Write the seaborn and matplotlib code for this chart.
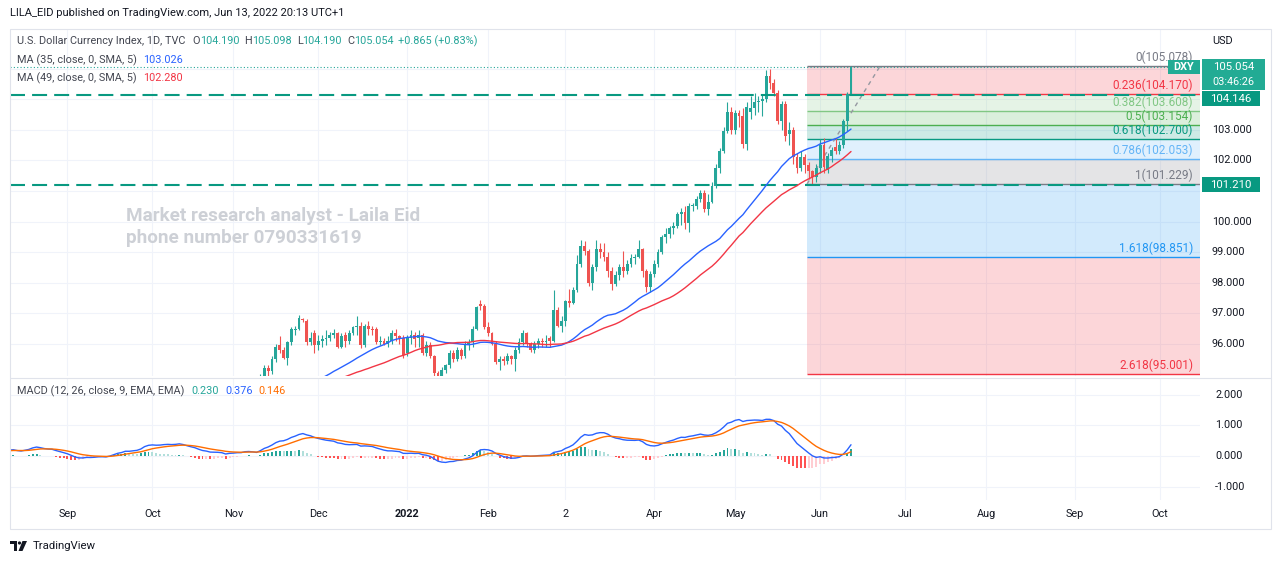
import numpy as np
import pandas as pd
import matplotlib
matplotlib.use("Agg")
import matplotlib.pyplot as plt
import matplotlib.transforms as mtrans
from matplotlib.patches import Rectangle, Polygon, Circle
import seaborn as sns

# ---------------------------------------------------------------- data
# daily closes Jun 1 2021 .. Nov 5 2021 (below the visible price range, feed the indicators)
warm_close = [
    89.9, 90.0, 90.5, 90.1, 90.0, 90.1, 90.1, 90.1, 90.6, 90.5, 90.5, 91.4, 91.9, 92.2, 91.9, 91.7, 91.8, 91.8, 91.8, 91.9, 92.1, 92.4,
    92.6, 92.2, 92.2, 92.6, 92.6, 92.4, 92.1, 92.2, 92.7, 92.4, 92.6, 92.7, 92.9, 92.9, 92.8, 92.8, 92.9, 92.7, 92.5, 92.3, 91.9, 92.2,
    92.0, 92.0, 92.3, 92.2, 92.8, 92.9, 93.1, 92.9, 92.9, 92.5, 92.6, 93.1, 93.2, 93.6, 93.5, 93.0, 92.9, 93.0, 93.1, 92.7, 92.7, 92.6,
    92.5, 92.2, 92.1, 92.2, 92.5, 92.7, 92.5, 92.6, 92.7, 92.6, 92.5, 92.9, 93.2, 93.3, 93.2, 93.5, 93.1, 93.3, 93.4, 93.8, 94.4, 94.2,
    94.0, 93.8, 94.0, 94.2, 94.2, 94.1, 94.3, 94.5, 94.1, 93.9, 93.9, 93.9, 93.6, 93.6, 93.8, 93.6, 93.9, 93.9, 93.8, 93.4, 94.1,
    94.0, 94.1, 94.0, 94.4, 94.2,
]

# daily candles Nov 8 2021 .. Jun 13 2022
opens = [
    94.2, 94.0, 93.9, 94.85, 95.2, 95.1, 95.5, 95.95, 95.8, 95.55, 96.05, 96.45, 96.5, 96.8, 96.75, 96.05, 96.35,
    95.95, 96.1, 96.15, 96.2, 96.3, 96.35, 95.9, 96.3, 96.1, 96.35, 96.55, 96.6, 95.95, 96.6, 96.5, 96.5, 96.05, 96.1, 96.0, 96.1, 96.35, 96.25, 96.2,
    95.7, 96.2, 96.3, 96.2, 96.3, 95.7, 95.95, 95.6, 95.05, 94.8, 95.15, 95.3, 95.7, 95.5, 95.8, 95.6, 95.95, 96.05, 96.5, 97.3, 97.25,
    96.55, 96.35, 96.0, 95.4, 95.5, 95.45, 95.6, 95.5, 95.8, 96.05, 96.35, 96.0, 95.8, 96.0, 96.1, 96.05, 96.2, 96.1, 97.1, 96.6,
    96.75, 97.4, 97.35, 97.75, 98.6, 99.2, 99.05, 98.0, 98.5, 99.1, 99.0, 98.85, 98.4, 97.95, 98.25, 98.5, 98.4, 98.6, 98.8, 98.85, 99.1, 98.4, 97.85,
    98.3, 98.6, 99.0, 99.5, 99.6, 99.8, 99.85, 100.25, 100.3, 99.95, 100.5, 100.5, 100.75, 100.95, 100.4, 100.65, 101.15, 101.75, 102.3, 102.95, 103.6,
    103.0, 103.55, 103.45, 102.55, 103.6, 103.7, 103.9, 103.95, 104.0, 104.75, 104.55, 104.2, 103.3, 103.85, 102.85, 103.0, 102.1, 101.75, 102.1, 101.85, 101.65, 101.45,
    101.75, 102.5, 101.7, 102.15, 102.45, 102.3, 102.5, 103.3, 104.19,
]
highs = [
    94.3, 94.1, 95.0, 95.3, 95.3, 95.6, 96.0, 96.25, 95.9, 96.1, 96.55, 96.6, 96.95, 96.85, 96.8, 96.4, 96.45,
    96.3, 96.3, 96.45, 96.4, 96.5, 96.4, 96.35, 96.4, 96.45, 96.6, 96.9, 96.7, 96.65, 96.75, 96.6, 96.55, 96.25, 96.2, 96.25, 96.45, 96.5, 96.3, 96.3,
    96.3, 96.45, 96.4, 96.45, 96.35, 96.1, 96.05, 95.65, 95.1, 95.25, 95.35, 95.8, 95.8, 95.9, 95.85, 96.1, 96.15, 96.6, 97.25, 97.45, 97.3,
    96.7, 96.4, 96.1, 95.6, 95.6, 95.7, 95.65, 95.9, 96.2, 96.45, 96.4, 96.05, 96.1, 96.2, 96.2, 96.3, 96.25, 97.75, 97.2, 96.9,
    97.45, 97.8, 97.85, 98.9, 99.4, 99.35, 99.1, 98.6, 99.4, 99.3, 99.3, 99.0, 98.5, 98.4, 98.6, 99.05, 98.75, 98.95, 98.95, 99.4, 99.15, 98.45, 98.4,
    98.75, 99.1, 99.55, 99.8, 99.85, 100.0, 100.3, 100.45, 100.5, 100.6, 100.6, 100.85, 101.05, 101.05, 100.9, 101.3, 101.9, 102.4, 103.1, 103.9, 103.75,
    103.65, 103.65, 103.7, 103.9, 104.1, 104.2, 104.1, 104.15, 104.95, 105.0, 104.65, 104.3, 103.95, 103.95, 103.25, 103.1, 102.25, 102.3, 102.2, 101.95, 101.7, 101.9,
    102.7, 102.75, 102.25, 102.45, 102.75, 102.65, 103.35, 104.25, 105.098,
]
lows = [
    93.9, 93.8, 93.9, 94.8, 94.95, 95.0, 95.4, 95.7, 95.5, 95.3, 95.95, 96.3, 96.45, 96.7, 95.95, 95.95, 95.7,
    95.8, 95.9, 95.95, 96.1, 96.2, 95.85, 95.85, 95.9, 96.0, 96.3, 96.3, 95.85, 95.9, 96.3, 96.3, 96.0, 95.95, 95.95, 95.9, 96.0, 96.1, 96.0, 95.55,
    95.6, 96.0, 95.9, 95.9, 95.65, 95.6, 95.55, 94.95, 94.6, 94.65, 95.05, 95.2, 95.4, 95.45, 95.5, 95.55, 95.8, 95.9, 96.45, 97.1, 96.5,
    96.25, 95.95, 95.35, 95.15, 95.3, 95.35, 95.35, 95.1, 95.7, 95.95, 95.9, 95.75, 95.7, 95.85, 95.9, 95.9, 95.9, 96.05, 96.55, 96.4,
    96.6, 97.2, 97.3, 97.7, 98.5, 98.9, 97.9, 97.75, 98.4, 98.8, 98.7, 98.2, 97.75, 97.9, 98.1, 98.2, 98.3, 98.5, 98.6, 98.8, 98.2, 97.7, 97.7,
    98.2, 98.5, 98.95, 99.3, 99.45, 99.6, 99.8, 99.9, 99.75, 99.65, 100.35, 100.4, 100.65, 100.3, 100.2, 100.6, 101.1, 101.6, 102.25, 102.9, 102.85,
    102.85, 103.1, 102.4, 102.35, 103.35, 103.5, 103.6, 103.45, 103.9, 104.35, 104.1, 103.2, 103.0, 102.65, 102.5, 101.9, 101.6, 101.65, 101.6, 101.4, 101.23, 101.3,
    101.6, 101.6, 101.6, 101.95, 102.2, 102.2, 102.4, 102.95, 104.19,
]
closes = [
    94.0, 93.9, 94.85, 95.2, 95.1, 95.5, 95.9, 95.8, 95.55, 96.05, 96.5, 96.5, 96.85, 96.78, 96.05, 96.2, 95.95,
    96.1, 96.15, 96.2, 96.3, 96.35, 95.9, 96.25, 96.1, 96.35, 96.55, 96.6, 95.95, 96.6, 96.5, 96.45, 96.05, 96.1, 96.0, 96.1, 96.35, 96.25, 96.2, 95.65,
    96.2, 96.3, 96.15, 96.3, 95.7, 95.95, 95.6, 95.05, 94.8, 95.15, 95.3, 95.7, 95.5, 95.8, 95.6, 95.95, 96.05, 96.5, 97.2, 97.25, 96.55,
    96.35, 96.0, 95.4, 95.5, 95.45, 95.6, 95.5, 95.8, 96.05, 96.35, 96.0, 95.8, 96.0, 96.1, 96.05, 96.1, 96.1, 97.1, 96.6, 96.75,
    97.4, 97.35, 97.75, 98.6, 99.2, 99.05, 98.0, 98.5, 99.1, 99.0, 98.85, 98.4, 97.95, 98.25, 98.5, 98.4, 98.6, 98.8, 98.85, 99.1, 98.4, 97.85, 98.3,
    98.6, 99.0, 99.5, 99.6, 99.8, 99.85, 100.25, 100.3, 99.95, 100.5, 100.5, 100.75, 100.95, 100.4, 100.65, 101.15, 101.75, 102.3, 102.95, 103.6, 103.0,
    103.55, 103.45, 102.55, 103.75, 103.7, 103.9, 103.95, 104.0, 104.75, 104.55, 104.2, 103.3, 103.85, 102.8, 103.0, 102.1, 101.75, 102.1, 101.85, 101.65, 101.45, 101.75,
    102.5, 101.8, 102.15, 102.35, 102.3, 102.5, 103.3, 104.19, 105.054,
]

# Fibonacci retracement drawn on the chart
fib_levels = ["0", "0.236", "0.382", "0.5", "0.618", "0.786", "1", "1.618", "2.618"]
fib_prices = [105.078, 104.170, 103.608, 103.154, 102.700, 102.053, 101.229, 98.851, 95.001]
fib_colors = ["#787b86", "#f23645", "#81c784", "#4caf50", "#089981", "#64b5f6", "#787b86", "#2196f3", "#f23645"]
hlines_prices = [104.146, 101.210]
last_price = 105.054

price_ticks = [96, 97, 98, 99, 100, 101, 102, 103, 104, 105]
macd_ticks = [2, 1, 0, -1]
month_keys = ["2021-09", "2021-10", "2021-11", "2021-12", "2022-01", "2022-02", "2022-03",
              "2022-04", "2022-05", "2022-06", "2022-07", "2022-08", "2022-09", "2022-10"]
month_labels = ["Sep", "Oct", "Nov", "Dec", "2022", "Feb", "2", "Apr", "May", "Jun", "Jul", "Aug", "Sep", "Oct"]

# ---------------------------------------------------------------- styling
sns.set_theme(style="white")
plt.rcParams["font.family"] = ["Roboto", "DejaVu Sans"]

UP, DN = "#26a69a", "#ef5350"
TXT = "#131722"
LEG = "#434651"
GRID = "#f0f3fa"
BORDER = "#e0e3eb"

W, H = 1280, 563
fig = plt.figure(figsize=(W / 100, H / 100), dpi=100)
fig.patch.set_facecolor("white")


def add_ax(x0, y0, x1, y1, **kw):
    return fig.add_axes([x0 / W, 1 - y1 / H, (x1 - x0) / W, (y1 - y0) / H], **kw)


ax = add_ax(10, 29, 1200, 376)
axm = add_ax(10, 379, 1200, 500)
ov = fig.add_axes([0, 0, 1, 1], zorder=10)
ov.set_xlim(0, W)
ov.set_ylim(H, 0)
ov.axis("off")
ov.patch.set_alpha(0)

# ---------------------------------------------------------------- series
dates = pd.bdate_range("2021-06-01", "2022-06-13")
close_all = pd.Series(np.array(warm_close + closes, dtype=float))
n = len(close_all)
assert n == len(dates)
idx = np.arange(n)
L = n - 1
first = len(warm_close)

ma35 = close_all.rolling(35).mean()
ma49 = close_all.rolling(49).mean()
ema12 = close_all.ewm(span=12, adjust=False).mean()
ema26 = close_all.ewm(span=26, adjust=False).mean()
macd = ema12 - ema26
signal = macd.ewm(span=9, adjust=False).mean()
hist = macd - signal

PXBAR = 3.86
xl = (L - (851 - 10) / PXBAR, L + (1200 - 851) / PXBAR)

all_dates = pd.bdate_range("2021-06-01", periods=n + 120)
month_pos = []
for k in month_keys:
    y, m = map(int, k.split("-"))
    month_pos.append(int(np.argmax((all_dates.year == y) & (all_dates.month == m))))

for a in (ax, axm):
    a.set_xlim(*xl)
    a.set_xticks([])
    a.set_yticks([])
    for s in a.spines.values():
        s.set_visible(False)
    a.set_facecolor("white")
    for mp in month_pos:
        a.axvline(mp, color=GRID, lw=0.8, zorder=0)

ax.set_ylim(94.95, 106.3)
axm.set_ylim(-1.44, 2.52)
for p in price_ticks:
    ax.axhline(p, color=GRID, lw=0.8, zorder=0)
for p in macd_ticks:
    axm.axhline(p, color=GRID, lw=0.8, zorder=0)

# ---------------------------------------------------------------- fibonacci
fx0 = L - 11.4
fx1 = xl[1]
for i in range(len(fib_prices) - 1):
    ax.add_patch(Rectangle((fx0, fib_prices[i + 1]), fx1 - fx0, fib_prices[i] - fib_prices[i + 1],
                           facecolor=fib_colors[i + 1], alpha=0.2, lw=0, zorder=1))
for p, c in zip(fib_prices, fib_colors):
    ax.hlines(p, fx0, fx1, color=c, lw=1.0, zorder=2)
lab_tr = mtrans.offset_copy(ax.transData, fig=fig, y=1.5, units="points")
for lv, p, c in zip(fib_levels, fib_prices, fib_colors):
    ax.text(L + (1193 - 851) / PXBAR, p, f"{lv}({p:.3f})", color=c, fontsize=8.5,
            ha="right", va="bottom", transform=lab_tr, zorder=6)
ax.plot([fx0, L + 7.5], [fib_prices[6], fib_prices[0]], color="#9598a1", lw=1.0,
        dashes=(3, 3), zorder=2)

# ---------------------------------------------------------------- candles
o = np.array(opens); h = np.array(highs); lo = np.array(lows); c = np.array(closes)
ci = idx[first:]
col = np.where(c >= o, UP, DN)
ax.vlines(ci, lo, h, colors=col, lw=0.8, zorder=3)
ax.bar(ci, np.maximum(np.abs(c - o), 0.03), bottom=np.minimum(o, c), width=0.74,
       color=col, linewidth=0, zorder=3.1)

sns.lineplot(x=idx, y=ma35.values, ax=ax, color="#2962ff", lw=1.0, legend=False, zorder=5)
sns.lineplot(x=idx, y=ma49.values, ax=ax, color="#f23645", lw=1.0, legend=False, zorder=5)

for p in hlines_prices:
    ax.axhline(p, color="#089981", lw=1.5, dashes=(7.2, 3.4), zorder=4)
ax.axhline(last_price, color="#26a69a", lw=0.8, ls=(0, (1, 2)), zorder=4)

# ---------------------------------------------------------------- MACD
hv = hist.values
prev = np.r_[hv[0], hv[:-1]]
hcol = np.where(hv >= 0, np.where(hv > prev, "#26a69a", "#b2dfdb"),
                np.where(hv < prev, "#ff5252", "#ffcdd2"))
axm.bar(idx, hv, width=0.5, color=hcol, linewidth=0, zorder=2)
sns.lineplot(x=idx, y=macd.values, ax=axm, color="#2962ff", lw=1.0, legend=False, zorder=3)
sns.lineplot(x=idx, y=signal.values, ax=axm, color="#ff6d00", lw=1.0, legend=False, zorder=3)
axm.set_xlabel(""); axm.set_ylabel(""); ax.set_xlabel(""); ax.set_ylabel("")


# ---------------------------------------------------------------- overlay helpers
def ypx(a, p):
    return H - a.transData.transform((0, p))[1]


def xpx(a, i):
    return a.transData.transform((i, 0))[0]


renderer = fig.canvas.get_renderer()


def seq_text(x, y, parts, size, weight="normal"):
    for s, colr, gap in parts:
        t = ov.text(x, y, s, color=colr, fontsize=size, ha="left", va="center", fontweight=weight)
        x += t.get_window_extent(renderer).width + gap
    return x


# frame
ov.add_patch(Rectangle((9.5, 28.5), 1261, 500, fill=False, edgecolor=BORDER, lw=0.8))
ov.plot([9.5, 1270.5], [377.5, 377.5], color=BORDER, lw=0.8)

# header / footer
ov.text(10, 13, "LILA_EID published on TradingView.com, Jun 13, 2022 20:13 UTC+1",
        color=TXT, fontsize=8, ha="left", va="center")
ov.add_patch(Rectangle((10, 541), 7, 3, color=TXT, lw=0))
ov.add_patch(Rectangle((13.5, 541), 3.5, 10, color=TXT, lw=0))
ov.add_patch(Circle((19.5, 543), 1.6, color=TXT, lw=0))
ov.add_patch(Polygon([(22.5, 541), (27, 541), (22.5, 551), (18.5, 551)], closed=True, color=TXT, lw=0))
ov.text(33, 546, "TradingView", color=TXT, fontsize=8.2, ha="left", va="center")

# legends
teal = "#26a69a"
seq_text(17, 41, [("U.S. Dollar Currency Index, 1D, TVC", LEG, 7), ("O", LEG, 0), ("104.190", teal, 5),
                  ("H", LEG, 0), ("105.098", teal, 5), ("L", LEG, 0), ("104.190", teal, 5),
                  ("C", LEG, 0), ("105.054", teal, 5), ("+0.865 (+0.83%)", teal, 0)], 7.8)
seq_text(17, 60, [("MA (35, close, 0, SMA, 5)", LEG, 6), ("103.026", "#2962ff", 0)], 7.8)
seq_text(17, 78, [("MA (49, close, 0, SMA, 5)", LEG, 6), ("102.280", "#f23645", 0)], 7.8)
seq_text(17, 391, [("MACD (12, 26, close, 9, EMA, EMA)", LEG, 7), ("0.230", teal, 6),
                   ("0.376", "#2962ff", 6), ("0.146", "#ff6d00", 0)], 7.8)

# watermark
ov.text(126, 216, "Market research analyst - Laila Eid", color="#cdd0d6", fontsize=13.6,
        fontweight="bold", ha="left", va="center")
ov.text(126, 238, "phone number 0790331619", color="#cdd0d6", fontsize=13.6,
        fontweight="bold", ha="left", va="center")

# price boxes (computed first so covered scale labels can be skipped)
py = ypx(ax, last_price)
boxes = [(py - 8, py + 23, "#22ab94", None)]
bottom = py + 23
for p in hlines_prices:
    yy = ypx(ax, p)
    top = max(yy - 7.5, bottom + 1)
    boxes.append((top, top + 15, "#089981", p))
    bottom = top + 15

# price scale
ov.text(1212, 41, "USD", color=TXT, fontsize=7.8, ha="left", va="center")
for p in price_ticks:
    yy = ypx(ax, p)
    if any(b0 - 6 <= yy <= b1 + 6 for b0, b1, _, _ in boxes):
        continue
    ov.text(1212, yy, f"{p:.3f}", color=TXT, fontsize=7.8, ha="left", va="center")
for p in macd_ticks:
    ov.text(1215, ypx(axm, p), f"{p:.3f}", color=TXT, fontsize=7.8, ha="left", va="center")

ov.add_patch(Rectangle((1202, boxes[0][0]), 63, boxes[0][1] - boxes[0][0], color=boxes[0][2], lw=0))
ov.text(1233.5, py, f"{last_price:.3f}", color="white", fontsize=8.2, ha="center", va="center")
ov.text(1233.5, py + 15, "03:46:26", color="white", fontsize=7.8, ha="center", va="center")
ov.add_patch(Rectangle((1168, py - 7), 32, 14, color="#22ab94", lw=0))
ov.text(1184, py, "DXY", color="white", fontsize=7.8, fontweight="bold", ha="center", va="center")
for b0, b1, bc, p in boxes[1:]:
    ov.add_patch(Rectangle((1202, b0), 58, b1 - b0, color=bc, lw=0))
    ov.text(1231, (b0 + b1) / 2, f"{p:.3f}", color="white", fontsize=8.2, ha="center", va="center")

# time axis
for mp, lab in zip(month_pos, month_labels):
    ov.text(xpx(axm, mp), 514, lab, color=TXT, fontsize=7.8, ha="center", va="center",
            fontweight="bold" if lab == "2022" else "normal")

fig.savefig("out.png", dpi=100, facecolor="white")
